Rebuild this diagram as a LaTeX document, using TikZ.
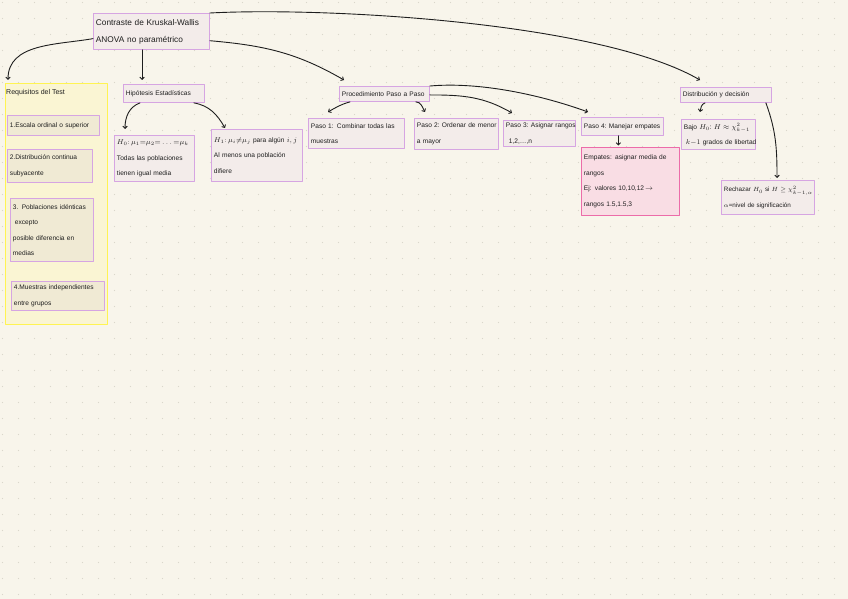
\documentclass[tikz,border=0pt]{standalone}
\usepackage{amsmath}
\usepackage{xcolor}
\usepackage{fontspec}
\setmainfont{Liberation Sans}
\usepackage{tikz}
\usetikzlibrary{positioning,arrows.meta,calc}
\definecolor{paper}{HTML}{F8F5EB}
\definecolor{dots}{HTML}{DAD7CB}
\definecolor{ink}{HTML}{1E1E1E}
\definecolor{lilac}{HTML}{D6A5E2}
\definecolor{card}{HTML}{F3ECEA}
\definecolor{lemon}{HTML}{FFF452}
\definecolor{cream}{HTML}{FAF5D3}
\definecolor{sand}{HTML}{F0EAD4}
\definecolor{rose}{HTML}{EC6CA9}
\definecolor{blush}{HTML}{F9DDE4}

\begin{document}
\begin{tikzpicture}[x=1pt, y=-1pt, line cap=round, line join=round,
  box/.style={draw=lilac, fill=card, line width=0.9pt, anchor=north west, align=left,
    inner xsep=2.5pt, inner ysep=0pt, text=ink, font=\fontsize{6.6}{15.5}\selectfont,
    execute at begin node={\hyphenpenalty=10000\exhyphenpenalty=10000\relpenalty=10000\binoppenalty=10000}},
  reqbox/.style={box, fill=sand},
  link/.style={draw=ink, line width=0.9pt, -{Straight Barb[length=2.2pt,width=4.4pt]}}]
  % paper with dot grid
  \fill[paper] (0,0) rectangle (848,599);
  \useasboundingbox (0,0) rectangle (848,599);
  \foreach \gx in {0,...,52}
    \foreach \gy in {0,...,37}
      \fill[dots] (16*\gx+2.5,16*\gy+2.5) circle (0.6);

  % title
  \node[box, text width=111pt, minimum height=36pt, font=\fontsize{8.3}{17}\selectfont] (kruskal) at (93,13) {Contraste de Kruskal-Wallis\\ANOVA no paramétrico};

  % requirements panel (yellow)
  \node[draw=lemon, fill=cream, line width=1.2pt, anchor=north west, minimum width=102pt, minimum height=241pt] (requisitos) at (5,83) {};
  \node[anchor=west, inner sep=1pt, text=ink, font=\fontsize{7}{8}\selectfont] (reqtitulo) at (5,93) {Requisitos del Test};
  \node[reqbox, text width=87pt, minimum height=20pt] (escala) at (7,115) {1.Escala ordinal o superior};
  \node[reqbox, text width=80pt, minimum height=33pt] (continua) at (7,149) {2.Distribución continua\\subyacente};
  \node[reqbox, text width=78pt, minimum height=63pt] (identicas) at (10,198) {3. Poblaciones idénticas\\\hspace*{2pt}excepto\\posible diferencia en\\medias};
  \node[reqbox, text width=88pt, minimum height=29pt] (independientes) at (11,281) {4.Muestras independientes\\entre grupos};

  % hypotheses
  \node[box, text width=76pt, minimum height=18pt] (hipotesis) at (123,84) {Hipótesis Estadísticas};
  \node[box, text width=75pt, minimum height=46pt] (nula) at (114,135) {$H_0{:}\,\mu_1{=}\mu_2{=}\dots{=}\mu_k$\\Todas las poblaciones\\tienen igual media};
  \node[box, text width=86pt, minimum height=52pt] (alterna) at (211,129) {$H_1{:}\,\mu_i{\neq}\mu_j$~para~algún~$i,j$\\Al menos una población\\difiere};

  % procedure, step by step
  \node[box, text width=85pt, minimum height=15pt] (procedimiento) at (339,86) {Procedimiento Paso a Paso};
  \node[box, text width=91pt, minimum height=30pt] (paso1) at (308,118) {Paso 1: Combinar todas las\\muestras};
  \node[box, text width=79pt, minimum height=31pt] (paso2) at (414,118) {Paso~2:~Ordenar~de~menor\\a mayor};
  \node[box, text width=67pt, minimum height=26pt] (paso3) at (503,120) {Paso~3:~Asignar~rangos\\\hspace*{3pt}1,2,\dots,n};
  \node[box, text width=77pt, minimum height=18pt] (paso4) at (581,117) {Paso~4:~Manejar~empates};
  \node[box, draw=rose, fill=blush, text width=93pt, minimum height=68pt] (empates) at (581,147) {Empates: asignar media de\\rangos\\Ej: valores 10,10,12\,$\rightarrow$\\rangos 1.5,1.5,3};

  % distribution and decision
  \node[box, text width=86pt, minimum height=15pt] (distribucion) at (680,87) {Distribución y decisión};
  \node[box, text width=69pt, minimum height=30pt] (bajo) at (681,119) {Bajo~$H_0$:~$H\approx\chi^2_{k-1}$\\\hspace*{2pt}$k{-}1$~grados~de~libertad};
  \node[box, text width=88pt, minimum height=34pt, font=\fontsize{6.3}{15.5}\selectfont] (rechazar) at (721,180) {Rechazar~$H_0$~si~$H\geq\chi^2_{k-1,\alpha}$\\$\alpha$=nivel de significación};

  % links from the title
  \draw[link] (kruskal.187) to[out=190, in=90] ($(requisitos.north west)+(3,-3)$);
  \draw[link] ($(kruskal.south west)+(49,0)$) -- ($(hipotesis.north west)+(19,-4)$);
  \draw[link] (kruskal.351) to[out=-5, in=150] ($(procedimiento.north west)+(5,-6)$);
  \draw[link] (kruskal.north east) to[out=3, in=150, looseness=0.6] ($(distribucion.north west)+(20,-7)$);

  % hypotheses links
  \draw[link] ($(hipotesis.south west)+(17,0)$) to[out=200, in=90] ($(nula.north west)+(11,-6)$);
  \draw[link] ($(hipotesis.south east)+(-11,0)$) to[out=-10, in=120] ($(alterna.north west)+(14,-1)$);

  % procedure links
  \draw[link] ($(procedimiento.south west)+(11,0)$) to[out=195, in=30] ($(paso1.north west)+(20,-6)$);
  \draw[link] ($(procedimiento.south east)+(-14,0)$) to[out=0, in=120] ($(paso2.north west)+(11,-6)$);
  \draw[link] ($(procedimiento.east)+(0,1)$) to[out=0, in=150] ($(paso3.north west)+(9,-7)$);
  \draw[link] (procedimiento.north east) to[out=5, in=160, looseness=0.8] ($(paso4.north west)+(7,-5)$);
  \coordinate (bajada) at ($(paso4.south)+(-4,0)$);
  \draw[link, shorten >=1.5pt] (bajada) -- (bajada |- empates.north);

  % distribution links
  \draw[link] ($(distribucion.south west)+(25,0)$) to[out=200, in=80] ($(bajo.north west)+(19,-7)$);
  \draw[link] ($(distribucion.south east)+(-6,0)$) to[out=-70, in=90] ($(rechazar.north west)+(56,-2)$);
\end{tikzpicture}
\end{document}
